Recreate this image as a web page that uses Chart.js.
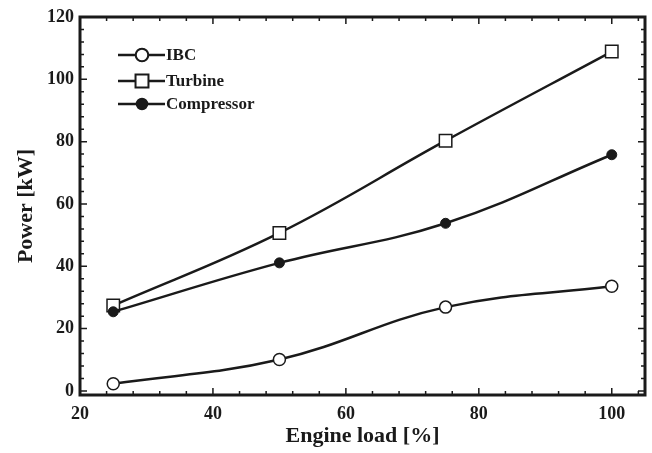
<!DOCTYPE html>
<html>
<head>
<meta charset="utf-8">
<script src="https://cdn.jsdelivr.net/npm/chart.js@4/dist/chart.umd.min.js"></script>
<style>
  html, body { margin: 0; padding: 0; background: #fff; }
  #wrap { width: 652px; height: 453px; }
</style>
</head>
<body>
<div id="wrap"><canvas id="power-chart"></canvas></div>
<script>
const loads = [25, 50, 75, 100];
const ibc = [2.3, 10.1, 26.9, 33.6];
const turbine = [27.4, 50.7, 80.3, 108.9];
const compressor = [25.4, 41.1, 53.8, 75.8];
const xTicks = [20, 40, 60, 80, 100];
const yTicks = [0, 20, 40, 60, 80, 100, 120];
const seriesNames = ['IBC', 'Turbine', 'Compressor'];

const ink = '#1a1a1a';
const serif = '"Liberation Serif", "Times New Roman", serif';

// frame + inward ticks (major every 20, minor every 4)
const framePlugin = {
  id: 'frame',
  afterDatasetsDraw(chart) {
    const {ctx, chartArea: a, scales: {x, y}} = chart;
    ctx.save();
    ctx.strokeStyle = ink;
    ctx.lineWidth = 1.5;
    for (let v = 20; v <= 105; v += 4) {
      const px = x.getPixelForValue(v);
      const len = v % 20 === 0 ? 7 : 4;
      ctx.beginPath();
      ctx.moveTo(px, a.bottom); ctx.lineTo(px, a.bottom - len);
      ctx.moveTo(px, a.top); ctx.lineTo(px, a.top + len);
      ctx.stroke();
    }
    for (let v = 0; v <= 120; v += 4) {
      const py = y.getPixelForValue(v);
      const len = v % 20 === 0 ? 7 : 4;
      ctx.beginPath();
      ctx.moveTo(a.left, py); ctx.lineTo(a.left + len, py);
      ctx.moveTo(a.right, py); ctx.lineTo(a.right - len, py);
      ctx.stroke();
    }
    ctx.lineWidth = 3;
    ctx.strokeRect(a.left, a.top, a.right - a.left, a.bottom - a.top);
    ctx.restore();
  }
};

// legend drawn as line-through-marker like the original
const legendPlugin = {
  id: 'lineLegend',
  afterDraw(chart) {
    const {ctx} = chart;
    const rows = [55, 81, 104];
    ctx.save();
    chart.data.datasets.forEach((ds, i) => {
      const yy = rows[i];
      ctx.strokeStyle = ink;
      ctx.lineWidth = 2.5;
      ctx.beginPath();
      ctx.moveTo(118, yy); ctx.lineTo(165, yy);
      ctx.stroke();
      Chart.helpers.drawPoint(ctx, {
        pointStyle: ds.pointStyle,
        radius: ds.pointRadius,
        borderWidth: ds.pointBorderWidth,
        rotation: 0
      }, 142, yy);
      ctx.fillStyle = ds.pointBackgroundColor;
      ctx.strokeStyle = ink;
      ctx.lineWidth = ds.pointBorderWidth;
      ctx.fill();
      ctx.stroke();
      ctx.fillStyle = ink;
      ctx.font = 'bold 17px ' + serif;
      ctx.textBaseline = 'middle';
      ctx.fillText(ds.label, 166, yy + 1);
    });
    ctx.restore();
  }
};

const toPts = vals => vals.map((v, i) => ({x: loads[i], y: v}));

new Chart(document.getElementById('power-chart'), {
  type: 'line',
  data: {
    datasets: [
      {label: seriesNames[0], data: toPts(ibc), pointStyle: 'circle', pointRadius: 6,
       pointBackgroundColor: '#fff', pointBorderWidth: 1.5, order: 1},
      {label: seriesNames[1], data: toPts(turbine), pointStyle: 'rect', pointRadius: 8.8,
       pointBackgroundColor: '#fff', pointBorderWidth: 1.5, order: 2},
      {label: seriesNames[2], data: toPts(compressor), pointStyle: 'circle', pointRadius: 5,
       pointBackgroundColor: ink, pointBorderWidth: 1, order: 0}
    ].map(d => Object.assign({
      borderColor: ink, pointBorderColor: ink, borderWidth: 2.5,
      tension: 0.4, pointHoverRadius: d.pointRadius, clip: false
    }, d))
  },
  options: {
    responsive: true,
    maintainAspectRatio: false,
    animation: false,
    layout: {autoPadding: false, padding: {left: 0, right: 7, top: 17, bottom: 0}},
    plugins: {legend: {display: false}, tooltip: {enabled: false}},
    scales: {
      x: {
        type: 'linear', min: 20, max: 105,
        afterBuildTicks: s => { s.ticks = xTicks.map(v => ({value: v})); },
        afterFit: s => { s.height = 58; s.paddingLeft = 0; s.paddingRight = 0; },
        grid: {display: false, drawTicks: false},
        border: {display: false},
        ticks: {color: ink, padding: 9, font: {family: serif, size: 18, weight: 'bold'}},
        title: {display: true, text: 'Engine load [%]', color: ink, padding: {top: 0, bottom: 3},
                font: {family: serif, size: 22, weight: 'bold'}}
      },
      y: {
        min: -1.3, max: 120,
        afterBuildTicks: s => { s.ticks = yTicks.map(v => ({value: v})); },
        afterFit: s => { s.width = 80; s.paddingTop = 0; s.paddingBottom = 0; },
        grid: {display: false, drawTicks: false},
        border: {display: false},
        ticks: {color: ink, padding: 6, font: {family: serif, size: 18, weight: 'bold'}},
        title: {display: true, text: 'Power [kW]', color: ink, padding: {top: 13, bottom: 0},
                font: {family: serif, size: 22, weight: 'bold'}}
      }
    }
  },
  plugins: [framePlugin, legendPlugin]
});
</script>
</body>
</html>
